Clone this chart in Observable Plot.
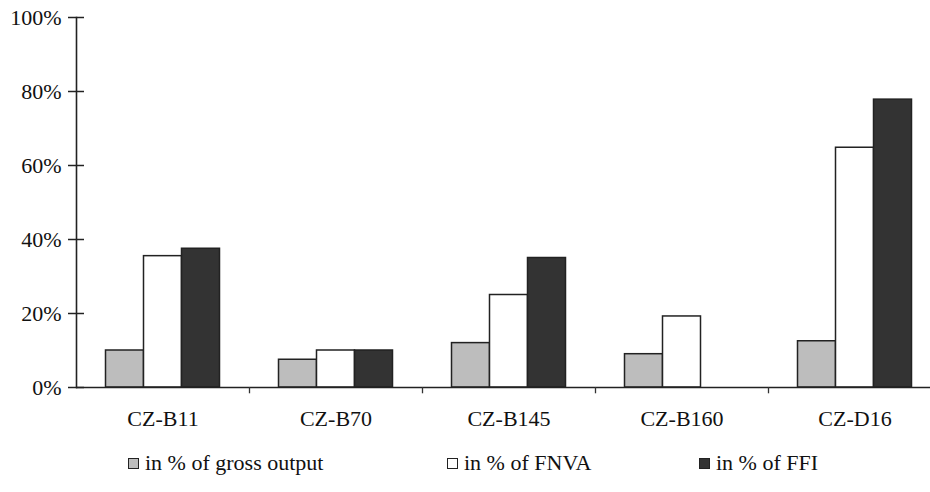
<!DOCTYPE html>
<html><head><meta charset="utf-8">
<script src="https://cdn.jsdelivr.net/npm/d3@7"></script>
<script src="https://cdn.jsdelivr.net/npm/@observablehq/plot@0.6"></script>
<style>
body{margin:0;background:#fff;}
#chart{position:relative;width:930px;height:492px;overflow:hidden;}
#legend{position:absolute;top:450px;left:0;width:930px;height:26px;}
#legend .item{position:absolute;top:0;height:26px;display:flex;align-items:center;white-space:nowrap;font-family:'Liberation Serif','Times New Roman',serif;font-size:22px;color:#111;}
#legend .sw{display:inline-block;width:9px;height:9px;border:1.5px solid #222;margin-right:6px;}
</style></head><body><div id="chart"></div>
<script>
const categories = ["CZ-B11", "CZ-B70", "CZ-B145", "CZ-B160", "CZ-D16"];
const series = ["in % of gross output", "in % of FNVA", "in % of FFI"];
const grossOutput = [10, 7.5, 12, 9, 12.5];
const fnva = [35.5, 10, 25, 19.2, 64.8];
const ffi = [37.5, 10, 35, null, 77.8];
const yTicks = [0, 20, 40, 60, 80, 100];
const colors = ["#bdbdbd", "#ffffff", "#333333"];

const valuesBySeries = [grossOutput, fnva, ffi];
const bandStep = 173, barW = 38;
const inset = (bandStep - barW) / 2;
const rows = vals => categories.map((c, i) => ({category: c, value: vals[i]})).filter(d => d.value != null);

const bars = valuesBySeries.map((vals, s) => Plot.barY(rows(vals), {
  x: "category", y: "value", fill: colors[s], stroke: "#222", strokeWidth: 1.5,
  insetLeft: inset, insetRight: inset, dx: (s - 1) * barW
}));

const chart = Plot.plot({
  width: 930, height: 432,
  marginLeft: 76, marginRight: 0, marginTop: 17, marginBottom: 45,
  style: {fontFamily: "'Liberation Serif', 'Times New Roman', serif", fontSize: "22px", color: "#111", background: "white"},
  x: {domain: categories, range: [76, 76 + bandStep * categories.length], padding: 0, label: null},
  y: {domain: [0, 100], label: null},
  marks: [
    ...bars,
    Plot.ruleY([0], {stroke: "#222", strokeWidth: 1.6}),
    Plot.frame({anchor: "left", stroke: "#222", strokeWidth: 1.6}),
    Plot.ruleX(categories.slice(0, -1), {x: d => d, dx: bandStep / 2, y1: 0, y2: -1.7, stroke: "#333", strokeWidth: 1.3}),
    Plot.axisY({ticks: yTicks, tickSize: 8, tickPadding: 7, tickFormat: d => d + "%", stroke: "#222", strokeWidth: 1.5, label: null}),
    Plot.axisY({ticks: yTicks, tickSize: -8, text: null, stroke: "#222", strokeWidth: 1.5, label: null}),
    Plot.axisX({tickSize: 0, tickPadding: 23, label: null})
  ]
});
const root = document.getElementById("chart");
root.appendChild(chart);

const legend = document.createElement("div");
legend.id = "legend";
const lefts = [128, 447, 699];
series.forEach((name, s) => {
  const it = document.createElement("div");
  it.className = "item";
  it.style.left = lefts[s] + "px";
  const sw = document.createElement("span");
  sw.className = "sw";
  sw.style.background = colors[s];
  const tx = document.createElement("span");
  tx.textContent = name;
  it.appendChild(sw); it.appendChild(tx);
  legend.appendChild(it);
});
root.appendChild(legend);
</script></body></html>
